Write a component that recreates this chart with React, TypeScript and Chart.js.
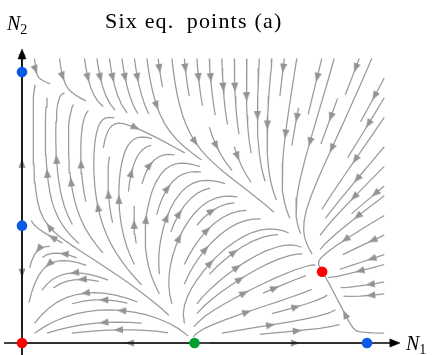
import React, { useEffect, useRef } from "react";
import { Chart, registerables } from "chart.js";
Chart.register(...registerables);

// ---- equilibrium points (N1, N2) ----
const EQ_N1 = [0, 0, 0, 0.5, 1.0, 0.87];
const EQ_N2 = [0, 0.433, 1.0, 0, 0, 0.263];
const EQ_COLORS = ["#ff0000", "#0a5ae6", "#0a5ae6", "#00a030", "#0a5ae6", "#ff0000"];

// ---- vector field parameters: dN1/dt = N1*phi1*phi2, dN2/dt = N2*psi1*psi2 ----
const PHI1 = [0.8, 0.5, 2]; // N2/a + (N1/b)^c - 1
const PHI2 = [0.1358, 0.2293]; // 1 - a sqrt(N2) - b N2 - N1
const PSI1 = [0.433, 0.33, 1.2]; // N2/a + (N1/b)^c - 1
const PSI2 = [0.578, 0.309]; // 1 - a N1 - b N1^2 - N2
const FIELD_RANGE = [0, 1.05];
const GRID_N = 100;

// ---- axes extents (data units) ----
const AXIS_N1 = [-0.052, 1.096];
const AXIS_N2 = [-0.045, 1.085];

// ---- layout ----
const W = 433;
const H = 355;
const ORIGIN_PX = [22, 343];
const PX_PER_UNIT = [345, 271];
const AXIS_HEAD_PX = [10, 4]; // length, half width

function field(n1: number, n2: number): [number, number] {
  const phi1 = n2 / PHI1[0] + Math.pow(n1 / PHI1[1], PHI1[2]) - 1;
  const phi2 = 1 - PHI2[0] * Math.sqrt(n2) - PHI2[1] * n2 - n1;
  const psi1 = n2 / PSI1[0] + Math.pow(n1 / PSI1[1], PSI1[2]) - 1;
  const psi2 = 1 - PSI2[0] * n1 - PSI2[1] * n1 * n1 - n2;
  return [n1 * phi1 * phi2, n2 * psi1 * psi2];
}

class OutOfBounds {}
class Terminate {}
class InvalidIndex {}

function pyRound(x: number) {
  const f = Math.floor(x);
  const d = x - f;
  if (d === 0.5) return f % 2 === 0 ? f : f + 1;
  return Math.round(x);
}

type Traj = { pts: { x: number; y: number }[]; arrow: { x: number; y: number; dx: number; dy: number } };

function streamplot(): Traj[] {
  const nx = GRID_N, ny = GRID_N;
  const x0 = FIELD_RANGE[0], x1 = FIELD_RANGE[1];
  const dxg = (x1 - x0) / (nx - 1), dyg = (x1 - x0) / (ny - 1);
  const u: number[][] = [], v: number[][] = [], sp: number[][] = [];
  for (let j = 0; j < ny; j++) {
    u.push([]); v.push([]); sp.push([]);
    for (let i = 0; i < nx; i++) {
      const [a, b] = field(x0 + i * dxg, x0 + j * dyg);
      const ug = a / dxg, vg = b / dyg;
      u[j].push(ug); v[j].push(vg);
      sp[j].push(Math.hypot(ug / (nx - 1), vg / (ny - 1)));
    }
  }
  const mnx = 30, mny = 30;
  const mask = new Uint8Array(mnx * mny);
  let cur: [number, number] | null = null;
  let traj: number[] = [];
  const xg2m = (mnx - 1) / (nx - 1), yg2m = (mny - 1) / (ny - 1);
  const within = (xi: number, yi: number) => xi >= 0 && xi <= nx - 1 && yi >= 0 && yi <= ny - 1;
  const interp = (a: number[][], xi: number, yi: number) => {
    const x = Math.trunc(xi), y = Math.trunc(yi);
    const xn = x === nx - 1 ? x : x + 1;
    const yn = y === ny - 1 ? y : y + 1;
    const xt = xi - x, yt = yi - y;
    const a0 = a[y][x] * (1 - xt) + a[y][xn] * xt;
    const a1 = a[yn][x] * (1 - xt) + a[yn][xn] * xt;
    return a0 * (1 - yt) + a1 * yt;
  };
  const updMask = (xm: number, ym: number) => {
    if (!cur || cur[0] !== xm || cur[1] !== ym) {
      if (mask[ym * mnx + xm] === 0) {
        traj.push(ym * mnx + xm);
        mask[ym * mnx + xm] = 1;
        cur = [xm, ym];
      } else throw new InvalidIndex();
    }
  };
  const updTraj = (xi: number, yi: number) => {
    if (!within(xi, yi)) throw new InvalidIndex();
    updMask(pyRound(xi * xg2m), pyRound(yi * yg2m));
  };
  const fwd = (xi: number, yi: number): [number, number] => {
    if (!within(xi, yi)) throw new OutOfBounds();
    const s = interp(sp, xi, yi);
    if (s === 0) throw new Terminate();
    return [interp(u, xi, yi) / s, interp(v, xi, yi) / s];
  };
  const bwd = (xi: number, yi: number): [number, number] => {
    const [a, b] = fwd(xi, yi);
    return [-a, -b];
  };
  const euler = (t: [number, number][], f: typeof fwd) => {
    const [xi, yi] = t[t.length - 1];
    let cx = 0, cy = 0;
    try { [cx, cy] = f(xi, yi); } catch (e) { return 0; }
    const dsx = cx === 0 ? Infinity : cx < 0 ? xi / -cx : (nx - 1 - xi) / cx;
    const dsy = cy === 0 ? Infinity : cy < 0 ? yi / -cy : (ny - 1 - yi) / cy;
    const ds = Math.min(dsx, dsy);
    if (!isFinite(ds)) return 0;
    t.push([xi + cx * ds, yi + cy * ds]);
    return ds;
  };
  const rk12 = (xs: number, ys: number, f: typeof fwd, maxlength: number): [number, [number, number][]] => {
    const maxerror = 0.003;
    const maxds = Math.min(1 / mnx, 1 / mny, 0.1);
    let ds = maxds, stotal = 0, xi = xs, yi = ys;
    const t: [number, number][] = [];
    for (let guard = 0; guard < 20000; guard++) {
      let k1x = 0, k1y = 0, k2x = 0, k2y = 0;
      try {
        if (within(xi, yi)) t.push([xi, yi]);
        else throw new OutOfBounds();
        [k1x, k1y] = f(xi, yi);
        [k2x, k2y] = f(xi + ds * k1x, yi + ds * k1y);
      } catch (e) {
        if (e instanceof OutOfBounds) {
          if (t.length) stotal += euler(t, f);
          break;
        }
        break;
      }
      const dx1 = ds * k1x, dy1 = ds * k1y;
      const dx2 = ds * 0.5 * (k1x + k2x), dy2 = ds * 0.5 * (k1y + k2y);
      const err = Math.hypot((dx2 - dx1) / (nx - 1), (dy2 - dy1) / (ny - 1));
      if (err < maxerror) {
        xi += dx2; yi += dy2;
        try { updTraj(xi, yi); } catch (e) { break; }
        if (stotal + ds > maxlength) break;
        stotal += ds;
      }
      ds = err === 0 ? maxds : Math.min(maxds, 0.85 * ds * Math.sqrt(maxerror / err));
    }
    return [stotal, t];
  };
  const integrate = (xs: number, ys: number) => {
    traj = [];
    try { updMask(pyRound(xs * xg2m), pyRound(ys * yg2m)); } catch (e) { return null; }
    let stotal = 0;
    const [s1, t1] = rk12(xs, ys, bwd, 4.0);
    stotal += s1;
    let all = t1.slice().reverse();
    cur = [pyRound(xs * xg2m), pyRound(ys * yg2m)];
    const [s2, t2] = rk12(xs, ys, fwd, 4.0);
    stotal += s2;
    all = all.concat(t2.slice(1));
    if (stotal > 0.1) return all;
    for (const k of traj) mask[k] = 0;
    return null;
  };
  const seeds: [number, number][] = [];
  {
    let xfirst = 0, yfirst = 1, xlast = mnx - 1, ylast = mny - 1, x = 0, y = 0;
    let dir = "right";
    for (let i = 0; i < mnx * mny; i++) {
      seeds.push([x, y]);
      if (dir === "right") { x += 1; if (x >= xlast) { xlast -= 1; dir = "up"; } }
      else if (dir === "up") { y += 1; if (y >= ylast) { ylast -= 1; dir = "left"; } }
      else if (dir === "left") { x -= 1; if (x <= xfirst) { xfirst += 1; dir = "down"; } }
      else { y -= 1; if (y <= yfirst) { yfirst += 1; dir = "right"; } }
    }
  }
  const out: Traj[] = [];
  for (const [xm, ym] of seeds) {
    if (mask[ym * mnx + xm] !== 0) continue;
    const t = integrate(xm / xg2m, ym / yg2m);
    if (!t || t.length < 2) continue;
    const pts = t.map(([gx, gy]) => ({ x: x0 + gx * dxg, y: x0 + gy * dyg }));
    const s: number[] = [];
    let acc = 0;
    for (let k = 1; k < pts.length; k++) {
      acc += Math.hypot(pts[k].x - pts[k - 1].x, pts[k].y - pts[k - 1].y);
      s.push(acc);
    }
    const half = acc / 2;
    let n = 0;
    while (n < s.length && s[n] < half) n++;
    const a = pts[n], b = pts[Math.min(n + 1, pts.length - 1)];
    out.push({ pts, arrow: { x: (a.x + b.x) / 2, y: (a.y + b.y) / 2, dx: b.x - a.x, dy: b.y - a.y } });
  }
  return out;
}

// arrowhead sprite pointing up; tip sits at the sprite centre
function makeArrow(len: number, halfW: number, color: string) {
  const c = document.createElement("canvas");
  c.width = Math.ceil(halfW * 2) + 2;
  c.height = Math.ceil(len) * 2 + 2;
  const ctx = c.getContext("2d")!;
  const cx = c.width / 2, cy = c.height / 2;
  ctx.fillStyle = color;
  ctx.beginPath();
  ctx.moveTo(cx, cy);
  ctx.lineTo(cx + halfW, cy + len);
  ctx.lineTo(cx - halfW, cy + len);
  ctx.closePath();
  ctx.fill();
  return c;
}

const rotDeg = (dx: number, dy: number) =>
  (Math.atan2(dx * PX_PER_UNIT[0], dy * PX_PER_UNIT[1]) * 180) / Math.PI;

export default function App() {
  const ref = useRef<HTMLCanvasElement>(null);
  useEffect(() => {
    const canvas = ref.current;
    if (!canvas) return;
    const streams = streamplot();
    const STREAM_COLOR = "#9a9a9a";
    const streamArrow = makeArrow(9, 3.6, "#939393");

    // axis arrowheads as filled triangles (tip at axis end)
    const hx = AXIS_HEAD_PX[0] / PX_PER_UNIT[0], hwy = AXIS_HEAD_PX[1] / PX_PER_UNIT[1];
    const vy = AXIS_HEAD_PX[0] / PX_PER_UNIT[1], vwx = AXIS_HEAD_PX[1] / PX_PER_UNIT[0];
    const headH = [
      { x: AXIS_N1[1], y: 0 },
      { x: AXIS_N1[1] - hx, y: hwy },
      { x: AXIS_N1[1] - hx, y: -hwy },
      { x: AXIS_N1[1], y: 0 },
    ];
    const headV = [
      { x: 0, y: AXIS_N2[1] },
      { x: vwx, y: AXIS_N2[1] - vy },
      { x: -vwx, y: AXIS_N2[1] - vy },
      { x: 0, y: AXIS_N2[1] },
    ];

    const datasets: any[] = [];
    datasets.push({
      data: EQ_N1.map((x, i) => ({ x, y: EQ_N2[i] })),
      pointRadius: 5.3,
      pointBackgroundColor: EQ_COLORS,
      pointBorderWidth: 0,
      showLine: false,
      order: 0,
    });
    for (const head of [headH, headV]) {
      datasets.push({
        data: head,
        showLine: true,
        fill: "shape",
        backgroundColor: "#000",
        borderColor: "#000",
        borderWidth: 0.5,
        pointRadius: 0,
        order: 1,
      });
    }
    datasets.push({
      data: [{ x: AXIS_N1[0], y: 0 }, { x: AXIS_N1[1] - 0.01, y: 0 }],
      showLine: true, borderColor: "#000", borderWidth: 1.7, pointRadius: 0, order: 2,
    });
    datasets.push({
      data: [{ x: 0, y: AXIS_N2[0] }, { x: 0, y: AXIS_N2[1] - 0.01 }],
      showLine: true, borderColor: "#000", borderWidth: 1.7, pointRadius: 0, order: 2,
    });
    datasets.push({
      data: streams.map((s) => ({ x: s.arrow.x, y: s.arrow.y })),
      pointStyle: streamArrow,
      pointRadius: 2,
      pointRotation: streams.map((s) => rotDeg(s.arrow.dx, s.arrow.dy)),
      showLine: false,
      order: 3,
    });
    for (const s of streams) {
      datasets.push({
        data: s.pts,
        showLine: true,
        borderColor: STREAM_COLOR,
        borderWidth: 1.25,
        pointRadius: 0,
        order: 4,
      });
    }
    const chart = new Chart(canvas, {
      type: "scatter",
      data: { datasets },
      options: {
        animation: false,
        responsive: false,
        events: [],
        layout: { padding: 0, autoPadding: false },
        plugins: { legend: { display: false }, tooltip: { enabled: false }, title: { display: false } },
        scales: {
          x: { type: "linear", display: false, min: -ORIGIN_PX[0] / PX_PER_UNIT[0], max: (W - ORIGIN_PX[0]) / PX_PER_UNIT[0] },
          y: { type: "linear", display: false, min: -(H - ORIGIN_PX[1]) / PX_PER_UNIT[1], max: ORIGIN_PX[1] / PX_PER_UNIT[1] },
        },
      },
    });
    return () => chart.destroy();
  }, []);

  const serif = '"Liberation Serif", "DejaVu Serif", serif';
  return (
    <div style={{ position: "fixed", left: 0, top: 0, width: W, height: H, background: "#fff" }}>
      <canvas ref={ref} width={W} height={H} style={{ position: "absolute", left: 0, top: 0, width: W, height: H }} />
      <div style={{ position: "absolute", left: 105, top: 10, fontFamily: serif, fontSize: 22, lineHeight: "22px", whiteSpace: "pre", letterSpacing: 1.2 }}>
        {"Six eq.\u2002points (a)"}
      </div>
      <div style={{ position: "absolute", left: 7, top: 13, fontFamily: serif, fontSize: 20, lineHeight: "20px", whiteSpace: "pre" }}>
        <span style={{ fontStyle: "italic" }}>N</span>
        <span style={{ fontSize: 14, position: "relative", top: 4, left: 0 }}>2</span>
      </div>
      <div style={{ position: "absolute", left: 406, top: 333, fontFamily: serif, fontSize: 20, lineHeight: "20px", whiteSpace: "pre" }}>
        <span style={{ fontStyle: "italic" }}>N</span>
        <span style={{ fontSize: 14, position: "relative", top: 4, left: 0 }}>1</span>
      </div>
    </div>
  );
}
